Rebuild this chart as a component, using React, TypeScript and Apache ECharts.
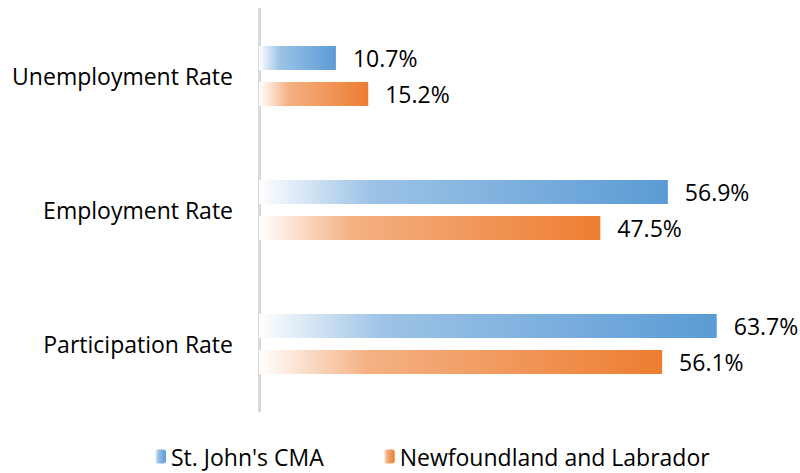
import React, { useEffect, useRef } from "react";
import * as echarts from "echarts";

const categories = ["Unemployment Rate", "Employment Rate", "Participation Rate"];
const stJohns = [10.7, 56.9, 63.7];
const nl = [15.2, 47.5, 56.1];
const seriesNames = ["St. John's CMA", "Newfoundland and Labrador"];

const FONT = "Open Sans";
const FS = 23;

function grad(mid: string, c: string) {
  return new echarts.graphic.LinearGradient(0, 0, 1, 0, [
    { offset: 0, color: "#ffffff" },
    { offset: 0.27, color: mid },
    { offset: 1, color: c },
  ]);
}

export default function App() {
  const ref = useRef<HTMLDivElement>(null);
  useEffect(() => {
    const chart = echarts.init(ref.current!, null, { renderer: "svg" });
    const label = {
      show: true,
      position: "right" as const,
      distance: 17,
      color: "#000",
      fontFamily: FONT,
      fontSize: FS,
      formatter: (p: any) => p.value.toFixed(1) + "%",
    };
    chart.setOption({
      animation: false,
      grid: { left: 259, right: 38, top: 9, bottom: 62 },
      xAxis: { type: "value", min: 0, max: 70, show: false },
      yAxis: {
        type: "category",
        data: categories,
        inverse: true,
        axisLine: { show: true, lineStyle: { color: "#D9D9D9", width: 3 } },
        axisTick: { show: false },
        axisLabel: { color: "#000", fontFamily: FONT, fontSize: FS, margin: 26 },
      },
      legend: {
        left: 150,
        top: 440,
        itemWidth: 11,
        itemHeight: 14,
        itemGap: 60,
        textStyle: { color: "#000", fontFamily: FONT, fontSize: FS },
        data: seriesNames,
      },
      series: [
        {
          name: seriesNames[0],
          type: "bar",
          data: stJohns,
          barWidth: 24,
          barGap: "50%",
          itemStyle: { color: grad("#9DC3E6", "#5B9BD5") },
          label,
        },
        {
          name: seriesNames[1],
          type: "bar",
          data: nl,
          barWidth: 24,
          barGap: "50%",
          itemStyle: { color: grad("#F4B183", "#ED7D31") },
          label,
        },
      ],
    });
    return () => chart.dispose();
  }, []);
  return <div ref={ref} style={{ width: 800, height: 473, position: "absolute", left: 0, top: 0 }} />;
}
